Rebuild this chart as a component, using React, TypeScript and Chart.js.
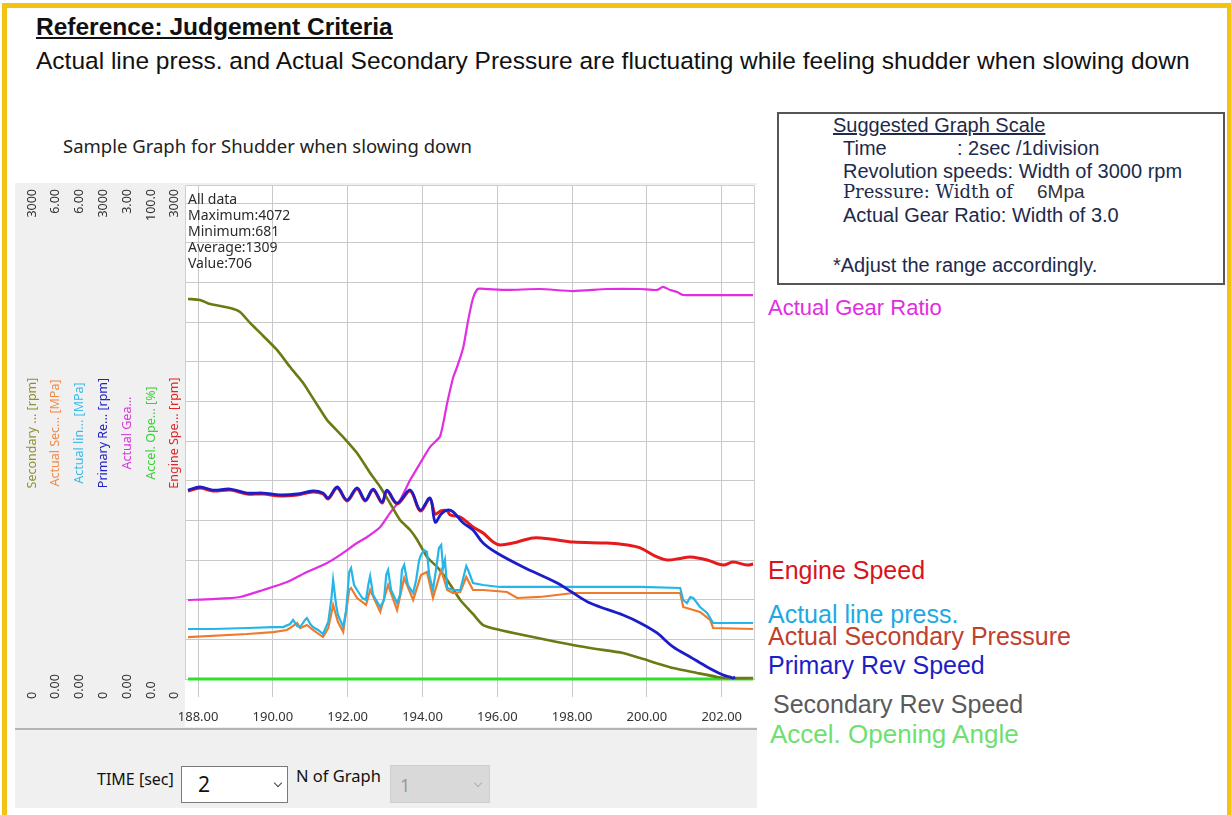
import React, { useEffect, useRef } from 'react';
import { Chart, registerables } from 'chart.js';
Chart.register(...registerables);

// ---------- data ----------
const timeTicks = [188, 190, 192, 194, 196, 198, 200, 202];
const timeRange = [187.65, 202.89];
const rpmGridTicks = [0, 250, 500, 750, 1000, 1250, 1500, 1750, 2000, 2250, 2500, 2750, 3000];

// left axis columns (order as drawn left to right)
const axisIds = ['ySec', 'yAsp', 'yLp', 'yPri', 'yGear', 'yAcc', 'yEng'];
const axisTitles = ['Secondary ... [rpm]', 'Actual Sec... [MPa]', 'Actual lin... [MPa]', 'Primary Re... [rpm]', 'Actual Gea...', 'Accel. Ope... [%]', 'Engine Spe... [rpm]'];
const axisMax = [3000, 6, 6, 3000, 3, 100, 3000];
const axisDecimals = [0, 2, 2, 0, 2, 1, 0];
const axisTitleColors = ['#8f8f35', '#f08a48', '#39b9e6', '#2222c0', '#de34de', '#3ccf3c', '#e22424'];

const engT = [187.73, 188.05, 188.40, 188.86, 189.31, 189.74, 190.19, 190.65, 191.07, 191.34, 191.48, 191.72, 191.98, 192.25, 192.47, 192.68, 192.92, 193.05, 193.32, 193.67, 193.94, 194.20, 194.34, 194.50, 194.66, 194.74, 195.01, 195.35, 195.62, 195.89, 196.07, 196.42, 196.96, 197.41, 198.03, 198.94, 199.47, 199.82, 200.27, 200.54, 200.89, 201.16, 201.61, 202.04, 202.30, 202.68, 202.84];
const engV = [1185, 1204, 1185, 1191, 1166, 1166, 1153, 1160, 1178, 1166, 1135, 1204, 1122, 1197, 1122, 1191, 1109, 1185, 1103, 1185, 1059, 1135, 1040, 1060, 1060, 1034, 1021, 958, 920, 863, 845, 857, 889, 882, 863, 857, 845, 826, 769, 750, 760, 769, 750, 718, 737, 718, 725];

const priT = [187.73, 188.05, 188.40, 188.86, 189.31, 189.74, 190.19, 190.65, 191.07, 191.34, 191.48, 191.72, 191.98, 192.25, 192.47, 192.68, 192.92, 193.05, 193.32, 193.67, 193.94, 194.20, 194.34, 194.50, 194.66, 194.82, 195.09, 195.35, 195.62, 195.99, 196.69, 197.60, 198.03, 198.48, 199.36, 199.82, 200.27, 200.70, 201.16, 201.61, 202.04, 202.22, 202.30, 202.36];
const priV = [1191, 1210, 1191, 1197, 1172, 1172, 1160, 1166, 1185, 1172, 1141, 1210, 1128, 1204, 1128, 1197, 1115, 1191, 1109, 1191, 1065, 1141, 989, 1040, 1065, 1053, 983, 939, 857, 794, 706, 605, 542, 479, 403, 353, 290, 202, 139, 76, 25, 13, 6, 13];

const secT = [187.73, 188.05, 188.32, 188.86, 189.12, 189.39, 189.66, 190.11, 190.46, 190.81, 191.07, 191.26, 191.45, 191.88, 192.25, 192.60, 192.87, 193.13, 193.40, 193.67, 193.86, 194.12, 194.39, 194.66, 195.01, 195.35, 195.62, 196.07, 196.69, 197.60, 198.48, 199.36, 199.82, 200.70, 201.34, 201.88, 202.14, 202.84];
const secV = [2395, 2389, 2363, 2338, 2313, 2244, 2181, 2074, 1966, 1866, 1770, 1700, 1632, 1525, 1424, 1298, 1210, 1109, 1002, 939, 876, 769, 706, 624, 498, 410, 340, 309, 277, 233, 195, 164, 132, 69, 38, 13, 6, 6];

const gearT = [187.73, 188.40, 189.12, 189.74, 190.38, 190.91, 191.45, 191.80, 192.25, 192.52, 192.87, 193.13, 193.40, 193.67, 193.94, 194.20, 194.47, 194.66, 194.82, 194.93, 195.09, 195.22, 195.35, 195.46, 195.54, 196.26, 197.14, 198.03, 198.94, 199.82, 200.27, 200.43, 200.62, 200.81, 200.97, 201.61, 202.84];
const gearV = [0.498, 0.504, 0.517, 0.561, 0.611, 0.674, 0.731, 0.782, 0.857, 0.895, 0.958, 1.046, 1.128, 1.254, 1.361, 1.462, 1.530, 1.740, 1.900, 1.970, 2.090, 2.260, 2.400, 2.455, 2.460, 2.452, 2.458, 2.445, 2.458, 2.458, 2.452, 2.471, 2.452, 2.439, 2.420, 2.420, 2.420];

const linePT = [187.73, 188.40, 189.31, 190.01, 190.27, 190.46, 190.54, 190.65, 190.73, 190.86, 190.91, 191.00, 191.07, 191.21, 191.34, 191.48, 191.56, 191.61, 191.69, 191.74, 191.88, 191.96, 192.04, 192.09, 192.17, 192.25, 192.39, 192.49, 192.55, 192.60, 192.68, 192.87, 192.97, 193.03, 193.08, 193.16, 193.32, 193.40, 193.45, 193.51, 193.61, 193.75, 193.83, 193.91, 193.96, 194.04, 194.12, 194.18, 194.28, 194.36, 194.44, 194.50, 194.55, 194.60, 194.66, 194.82, 195.01, 195.11, 195.17, 195.22, 195.35, 195.62, 196.07, 197.14, 198.75, 199.82, 200.89, 200.97, 201.07, 201.16, 201.24, 201.42, 201.61, 201.77, 202.84];
const linePV = [0.630, 0.630, 0.643, 0.655, 0.655, 0.693, 0.744, 0.668, 0.655, 0.744, 0.769, 0.693, 0.655, 0.618, 0.567, 0.718, 0.996, 1.248, 0.933, 0.807, 0.655, 0.870, 1.349, 1.399, 1.185, 1.122, 1.021, 0.996, 1.185, 1.298, 1.059, 0.908, 0.996, 1.311, 1.374, 1.122, 0.958, 1.059, 1.374, 1.437, 1.185, 1.084, 1.248, 1.500, 1.563, 1.626, 1.601, 1.311, 1.122, 1.374, 1.651, 1.689, 1.399, 1.500, 1.147, 1.122, 1.122, 1.311, 1.424, 1.374, 1.210, 1.185, 1.160, 1.160, 1.160, 1.160, 1.147, 0.996, 0.958, 1.034, 1.021, 0.908, 0.832, 0.706, 0.706];

const secPT = [187.73, 189.31, 190.01, 190.38, 190.65, 190.73, 190.91, 191.07, 191.34, 191.48, 191.61, 191.74, 191.88, 192.04, 192.09, 192.25, 192.49, 192.60, 192.87, 193.08, 193.32, 193.51, 193.75, 193.96, 194.12, 194.28, 194.50, 194.66, 194.82, 195.01, 195.17, 195.35, 195.62, 196.26, 196.53, 197.14, 198.03, 198.94, 200.89, 200.97, 201.42, 201.69, 201.77, 202.84];
const secPV = [0.529, 0.567, 0.592, 0.618, 0.706, 0.643, 0.681, 0.618, 0.529, 0.643, 0.933, 0.718, 0.592, 1.122, 1.147, 1.021, 0.933, 1.122, 0.845, 1.185, 0.870, 1.273, 0.996, 1.311, 1.349, 1.021, 1.374, 1.122, 1.084, 1.097, 1.286, 1.122, 1.122, 1.097, 1.021, 1.034, 1.084, 1.084, 1.084, 0.908, 0.845, 0.744, 0.643, 0.630];

const accT = [187.73, 202.84];
const accV = [0, 0];

const statsLines = ['All data', 'Maximum:4072', 'Minimum:681', 'Average:1309', 'Value:706'];

// ---------- layout constants ----------
const HEAD = 494 / 476; // space above full scale inside plot area
const UI = '"Noto Sans", "Open Sans", sans-serif';
const ARIAL = '"Liberation Sans", Arial, sans-serif';

const pts = (t: number[], v: number[]) => t.map((x, i) => ({ x, y: v[i] }));

const framePlugin = {
  id: 'frameBg',
  beforeDraw(chart: any) {
    const { ctx, chartArea: a, width, height } = chart;
    ctx.save();
    ctx.fillStyle = '#f0f0f0';
    ctx.fillRect(0, 0, width, height);
    ctx.fillStyle = '#ffffff';
    ctx.fillRect(a.left, a.top, a.right - a.left + 2, height - a.top - 2);
    ctx.restore();
  },
  beforeDatasetsDraw(chart: any) {
    const { ctx, chartArea: a } = chart;
    ctx.save();
    ctx.strokeStyle = '#cfcfcf';
    ctx.lineWidth = 1;
    ctx.beginPath();
    ctx.moveTo(a.left + 0.5, a.bottom);
    ctx.lineTo(a.left + 0.5, a.top + 0.5);
    ctx.lineTo(a.right - 0.5, a.top + 0.5);
    ctx.lineTo(a.right - 0.5, a.bottom);
    ctx.stroke();
    ctx.restore();
  },
  afterDraw(chart: any) {
    const { ctx, chartArea: a } = chart;
    ctx.save();
    ctx.font = `12.5px ${UI}`;
    ctx.textBaseline = 'middle';
    axisIds.forEach((id, i) => {
      const s = chart.scales[id];
      const yTop = s.getPixelForValue(axisMax[i]);
      const yBot = s.getPixelForValue(0);
      const x = a.left - 153 + i * 23.8;
      const draw = (text: string, y: number, align: string, color: string) => {
        ctx.save();
        ctx.translate(x, y);
        ctx.rotate(-Math.PI / 2);
        ctx.textAlign = align;
        ctx.fillStyle = color;
        ctx.fillText(text, 0, 0);
        ctx.restore();
      };
      draw(axisMax[i].toFixed(axisDecimals[i]), yTop - 14, 'right', '#333333');
      draw((0).toFixed(axisDecimals[i]), yBot + 20, 'left', '#333333');
      draw(axisTitles[i], (yTop + yBot) / 2 - 8, 'center', axisTitleColors[i]);
    });
    ctx.restore();
  },
};

function ChartCanvas() {
  const ref = useRef<HTMLCanvasElement | null>(null);
  useEffect(() => {
    if (!ref.current) return;
    const yScales: any = {};
    axisIds.forEach((id, i) => {
      yScales[id] = { type: 'linear', display: false, min: 0, max: axisMax[i] * HEAD };
    });
    yScales.yEng = {
      type: 'linear',
      display: true,
      position: 'left',
      min: 0,
      max: axisMax[6] * HEAD,
      afterBuildTicks: (s: any) => { s.ticks = rpmGridTicks.map((v) => ({ value: v })); },
      afterFit: (s: any) => { s.width = 0; },
      ticks: { display: false },
      grid: { color: '#c9c9c9', drawTicks: false, lineWidth: 1 },
      border: { display: false },
    };
    const line = (label: string, t: number[], v: number[], axis: string, color: string, w: number, tension = 0) => ({
      label, data: pts(t, v), yAxisID: axis, borderColor: color, backgroundColor: color,
      borderWidth: w, pointRadius: 0, tension, fill: false, clip: false,
    });
    const chart = new Chart(ref.current, {
      type: 'line',
      data: {
        datasets: [
          line('Primary Rev Speed', priT, priV, 'yPri', '#1c1cc8', 2.8, 0.35),
          line('Engine Speed', engT, engV, 'yEng', '#e61a1a', 3, 0.35),
          line('Actual line press.', linePT, linePV, 'yLp', '#24b6e8', 2.2),
          line('Actual Secondary Pressure', secPT, secPV, 'yAsp', '#f07a2c', 2.2),
          line('Secondary Rev Speed', secT, secV, 'ySec', '#6c7a14', 2.6, 0.2),
          line('Actual Gear Ratio', gearT, gearV, 'yGear', '#e22ee2', 2.2, 0.2),
          line('Accel. Opening Angle', accT, accV, 'yAcc', '#2fe02f', 3),
        ] as any,
      },
      options: {
        responsive: false,
        animation: false,
        events: [],
        layout: { padding: { left: 170, right: 2, top: 2, bottom: 0 } },
        plugins: { legend: { display: false }, tooltip: { enabled: false } },
        scales: {
          x: {
            type: 'linear',
            min: timeRange[0],
            max: timeRange[1],
            afterBuildTicks: (s: any) => { s.ticks = timeTicks.map((v) => ({ value: v })); },
            afterFit: (s: any) => { s.height = 50; },
            grid: { color: '#c9c9c9', lineWidth: 1, tickLength: 18, drawTicks: true },
            border: { display: false },
            ticks: {
              color: '#333333', font: { family: UI, size: 13 }, padding: 12,
              maxRotation: 0, autoSkip: false,
              callback: (v: any) => Number(v).toFixed(2),
            },
          },
          ...yScales,
        },
      } as any,
      plugins: [framePlugin as any],
    });
    return () => chart.destroy();
  }, []);
  return <canvas ref={ref} width={742} height={546} style={{ position: 'absolute', left: 15, top: 183, width: 742, height: 546 }} />;
}

const abs = (left: number, top: number, extra: any = {}) => ({ position: 'absolute' as const, left, top, whiteSpace: 'nowrap' as const, ...extra });

export default function App() {
  const navy = '#1d2a4c';
  const boxFont = { fontFamily: ARIAL, fontSize: 20, lineHeight: '22px', color: navy };
  const rightLabels: [string, string, number, number, number][] = [
    ['Actual Gear Ratio', '#e02ee0', 768, 308, 22],
    ['Engine Speed', '#d8141c', 768, 570, 25],
    ['Actual line press.', '#1ea9e2', 768, 614, 25],
    ['Actual Secondary Pressure', '#c0402e', 768, 636, 25],
    ['Primary Rev Speed', '#1e1ec6', 768, 665, 25],
    ['Secondary Rev Speed', '#5a5a5a', 773, 704, 25],
    ['Accel. Opening Angle', '#6fe06f', 770, 734, 26],
  ];
  return (
    <div style={{ position: 'absolute', left: 0, top: 0, width: 1231, height: 815, background: '#ffffff', overflow: 'hidden' }}>
      {/* yellow frame */}
      <div style={abs(2, 3, { width: 1229, height: 5, background: '#f3c313' })} />
      <div style={abs(2, 3, { width: 5, height: 812, background: '#f3c313' })} />
      <div style={abs(1227, 3, { width: 4, height: 812, background: '#f3c313' })} />

      {/* headings */}
      <div style={abs(36, 13, { fontFamily: ARIAL, fontSize: 24.5, lineHeight: '28px', fontWeight: 'bold', textDecoration: 'underline', color: '#111' })}>Reference: Judgement Criteria</div>
      <div style={abs(36, 47, { fontFamily: ARIAL, fontSize: 24.5, lineHeight: '28px', color: '#111' })}>Actual line press. and Actual Secondary Pressure are fluctuating while feeling shudder when slowing down</div>
      <div style={abs(63, 135, { fontFamily: UI, fontSize: 18.5, lineHeight: '22px', color: '#222' })}>Sample Graph for Shudder when slowing down</div>

      {/* suggested scale box */}
      <div style={abs(777, 112, { width: 448, height: 173, border: '2px solid #555', boxSizing: 'border-box' })} />
      <div style={abs(833, 114, { ...boxFont, textDecoration: 'underline' })}>Suggested Graph Scale</div>
      <div style={abs(843, 137, boxFont)}>Time</div>
      <div style={abs(957, 137, boxFont)}>: 2sec /1division</div>
      <div style={abs(843, 160, boxFont)}>Revolution speeds: Width of 3000 rpm</div>
      <div style={abs(843, 181, { ...boxFont, fontSize: 18, fontFamily: '"DejaVu Serif", "Liberation Serif", serif' })}>Pressure: Width of</div>
      <div style={abs(1037, 181, { ...boxFont, fontSize: 19, color: '#333' })}>6Mpa</div>
      <div style={abs(843, 204, boxFont)}>Actual Gear Ratio: Width of 3.0</div>
      <div style={abs(833, 254, boxFont)}>*Adjust the range accordingly.</div>

      {/* graph widget */}
      <div style={abs(15, 183, { width: 742, height: 625, background: '#f0f0f0' })} />
      <ChartCanvas />
      <div style={abs(188, 191, { fontFamily: UI, fontSize: 14, lineHeight: '16px', color: '#2b2b2b' })}>
        {statsLines.map((s) => <div key={s}>{s}</div>)}
      </div>
      <div style={abs(15, 728, { width: 742, height: 2, background: '#b5b5b5' })} />
      <div style={abs(97, 767, { fontFamily: UI, fontSize: 16, lineHeight: '24px', color: '#111' })}>TIME [sec]</div>
      <div style={abs(181, 766, { width: 107, height: 37, background: '#fff', border: '1px solid #7a7a7a', boxSizing: 'border-box' })} />
      <div style={abs(198, 769, { fontFamily: UI, fontSize: 21, lineHeight: '30px', color: '#111' })}>2</div>
      <div style={abs(275, 780, { width: 5, height: 5, borderRight: '1px solid #444', borderBottom: '1px solid #444', transform: 'rotate(45deg)' })} />
      <div style={abs(296, 764, { fontFamily: UI, fontSize: 16.5, lineHeight: '24px', color: '#111' })}>N of Graph</div>
      <div style={abs(390, 765, { width: 100, height: 38, background: '#d9d9d9', border: '1px solid #cfcfcf', boxSizing: 'border-box' })} />
      <div style={abs(400, 771, { fontFamily: UI, fontSize: 18, lineHeight: '28px', color: '#9a9a9a' })}>1</div>
      <div style={abs(475, 780, { width: 5, height: 5, borderRight: '1px solid #b0b0b0', borderBottom: '1px solid #b0b0b0', transform: 'rotate(45deg)' })} />

      {/* right-hand labels */}
      {rightLabels.map(([t, c, x, y, fs]) => (
        <div key={t} style={abs(x, y - 15, { fontFamily: ARIAL, fontSize: fs, lineHeight: '30px', color: c })}>{t}</div>
      ))}
    </div>
  );
}
